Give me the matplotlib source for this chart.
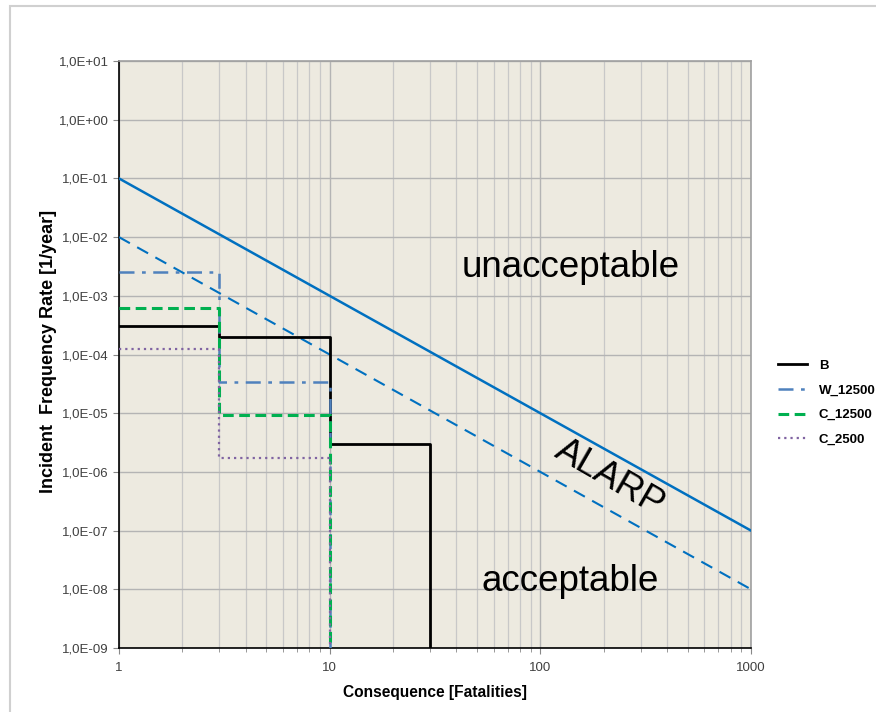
import numpy as np
import matplotlib
matplotlib.use("Agg")
import matplotlib.pyplot as plt
from matplotlib.ticker import LogLocator, FixedLocator, FuncFormatter, NullFormatter

plt.rcParams['font.family'] = ['Liberation Sans', 'DejaVu Sans']

# FN criterion lines (fatalities vs frequency)
crit_x = [1, 1000]
upper_y = [1e-1, 1e-7]
lower_y = [1e-2, 1e-8]

# step curves: frequency for N >= x
step_x = [1, 3, 10, 30]
B = [3e-4, 2e-4, 3e-6, 1e-9]
W_12500 = [2.5e-3, 3.4e-5, 1e-9]
C_12500 = [6.2e-4, 9.2e-6, 1e-9]
C_2500 = [1.25e-4, 1.75e-6, 1e-9]

series = [
    ("B", B, dict(color="black", lw=2.0, ls="-")),
    ("W_12500", W_12500, dict(color="#4F81BD", lw=1.8, ls=(0, (6, 3, 1.5, 3)))),
    ("C_12500", C_12500, dict(color="#00B050", lw=2.2, ls=(0, (3.5, 1.8)))),
    ("C_2500", C_2500, dict(color="#8064A2", lw=1.6, ls=(0, (1, 1.8)))),
]


def step_path(xs, ys):
    px, py = [], []
    for i, y in enumerate(ys[:-1]):
        px += [xs[i], xs[i + 1]]
        py += [y, y]
    px.append(xs[len(ys) - 1])
    py.append(ys[-1])
    return px, py


fig = plt.figure(figsize=(8.76, 7.12), dpi=100)
ax = fig.add_axes([0.1358, 0.0899, 0.7215, 0.8244])
ax.set_facecolor("#EDEAE0")

ax.set_xscale("log")
ax.set_yscale("log")
ax.set_xlim(1, 1000)
ax.set_ylim(1e-9, 1e1)

ax.xaxis.set_major_locator(FixedLocator([1, 10, 100, 1000]))
ax.xaxis.set_minor_locator(LogLocator(base=10, subs=np.arange(2, 10)))
ax.xaxis.set_minor_formatter(NullFormatter())
ax.xaxis.set_major_formatter(FuncFormatter(lambda v, p: f"{v:g}"))
ax.yaxis.set_major_locator(FixedLocator([10.0 ** k for k in range(-9, 2)]))
ax.yaxis.set_minor_locator(FixedLocator([]))


def sci_comma(v, p):
    e = int(round(np.log10(v)))
    return f"1,0E{'+' if e >= 0 else '-'}{abs(e):02d}"


ax.yaxis.set_major_formatter(FuncFormatter(sci_comma))

ax.grid(True, which="major", color="#B4B4B4", lw=1.0)
ax.grid(True, which="minor", axis="x", color="#C8C8C8", lw=0.9)
ax.set_axisbelow(True)

for s in ["top", "right"]:
    ax.spines[s].set_color("#A0A0A0")
    ax.spines[s].set_linewidth(1.2)
for s in ["left", "bottom"]:
    ax.spines[s].set_color("black")
    ax.spines[s].set_linewidth(1.2)

ax.tick_params(axis="both", which="major", labelsize=9.5, labelcolor="#404040",
               color="#888888", length=4)
ax.tick_params(axis="x", which="minor", length=3, color="#888888")
ax.tick_params(axis="x", pad=6)

ax.plot(crit_x, upper_y, color="#0070C0", lw=1.8, zorder=4)
ax.plot(crit_x, lower_y, color="#0070C0", lw=1.5, ls=(0, (6, 4)), zorder=4)

for name, ys, style in series:
    px, py = step_path(step_x, ys)
    ax.plot(px, py, label=name, zorder=5, **style)

ax.text(0.715, 0.648, "unacceptable", transform=ax.transAxes, fontsize=26.5,
        ha="center", va="center")
ax.text(0.777, 0.29, "ALARP", transform=ax.transAxes, fontsize=26.5,
        ha="center", va="center", rotation=-30)
ax.text(0.714, 0.113, "acceptable", transform=ax.transAxes, fontsize=26.5,
        ha="center", va="center")

ax.set_xlabel("Consequence [Fatalities]", fontsize=11.2, fontweight="bold", labelpad=8)
ax.set_ylabel("Incident  Frequency Rate [1/year]", fontsize=13, fontweight="bold")
ax.yaxis.set_label_coords(-0.098, 0.505)

leg = ax.legend(loc="center left", bbox_to_anchor=(1.024, 0.418), frameon=False,
                fontsize=9.5, handlelength=2.2, handletextpad=0.9, labelspacing=0.95)
for t in leg.get_texts():
    t.set_fontweight("bold")

# outer chart frame
frame = plt.Rectangle((10 / 876, -0.1), 1.2, 1 - 6 / 712 + 0.1, transform=fig.transFigure,
                      fill=False, edgecolor="#D0D0D0", lw=1.5)
fig.patches.append(frame)

fig.savefig("out.png", dpi=100)
